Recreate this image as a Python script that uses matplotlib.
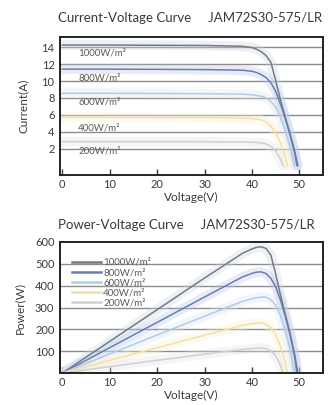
import matplotlib
matplotlib.use("Agg")
import matplotlib.pyplot as plt

plt.rcParams['font.family'] = ['Lato', 'DejaVu Sans']

labels = ["1000W/m²", "800W/m²", "600W/m²", "400W/m²", "200W/m²"]
colors = ["#7a7a7a", "#6a7fb0", "#b3cbe6", "#f4dfa6", "#d0d0d0"]
glows = ["#c8d8e8", "#b8c8e8", "#d8e6f4", "#fbeed0", "#e4e4e4"]

# I-V curves (voltage V, current A)
v_1000 = [0, 10, 20, 30, 38, 40, 41, 42, 43, 44, 45, 46, 47, 48, 49, 49.7]
i_1000 = [14.25, 14.25, 14.22, 14.2, 14.1, 13.95, 13.75, 13.45, 13.0, 12.2, 10.1, 7.8, 5.8, 3.9, 1.8, 0]
v_800 = [0, 10, 20, 30, 38, 40, 41, 42, 43, 44, 45, 46, 47, 48, 49, 49.5]
i_800 = [11.4, 11.4, 11.38, 11.35, 11.28, 11.15, 11.0, 10.75, 10.4, 9.8, 8.8, 7.3, 5.6, 3.7, 1.5, 0]
v_600 = [0, 10, 20, 30, 38, 40, 42, 43, 44, 45, 46, 47, 48, 49]
i_600 = [8.55, 8.55, 8.53, 8.5, 8.45, 8.38, 8.2, 8.0, 7.6, 6.9, 5.7, 4.2, 2.4, 0]
v_400 = [0, 10, 20, 30, 38, 40, 41, 42, 43, 44, 45, 46, 47, 47.5]
i_400 = [5.7, 5.7, 5.69, 5.67, 5.63, 5.58, 5.52, 5.4, 5.15, 4.7, 3.9, 2.7, 1.2, 0]
v_200 = [0, 10, 20, 30, 38, 40, 41, 42, 43, 44, 45, 46, 46.5]
i_200 = [2.85, 2.85, 2.84, 2.83, 2.8, 2.77, 2.74, 2.68, 2.55, 2.3, 1.75, 0.8, 0]

# P-V curves (voltage V, power W)
p_1000 = [0, 145, 290, 435, 548, 568, 576, 578, 570, 540, 455, 359, 273, 187, 88, 0]
p_800 = [0, 116, 232, 348, 440, 456, 462, 463, 455, 433, 396, 336, 263, 178, 74, 0]
p_600 = [0, 87, 174, 260, 328, 340, 348, 347, 336, 311, 262, 197, 115, 0]
p_400 = [0, 58, 116, 173, 218, 226, 229, 229, 222, 207, 176, 124, 56, 0]
p_200 = [0, 29, 58, 86, 108, 112, 114, 114, 111, 101, 79, 37, 0]

volts = [v_1000, v_800, v_600, v_400, v_200]
currents = [i_1000, i_800, i_600, i_400, i_200]
powers = [p_1000, p_800, p_600, p_400, p_200]

x_ticks = [0, 10, 20, 30, 40, 50]
i_ticks = [2, 4, 6, 8, 10, 12, 14]
p_ticks = [100, 200, 300, 400, 500, 600]
label_y = [13.3, 10.4, 7.5, 4.5, 1.75]

fig = plt.figure(figsize=(3.28, 4.05), dpi=100)
ax1 = fig.add_axes([60 / 328, 1 - 175 / 405, 263 / 328, 138 / 405])
ax2 = fig.add_axes([60 / 328, 1 - 373 / 405, 263 / 328, 131 / 405])

def style(ax):
    for s in ax.spines.values():
        s.set_linewidth(1.4)
        s.set_color("#222222")
        s.set_zorder(6)
    ax.tick_params(axis="x", direction="in", length=4, width=1.0, labelsize=8, colors="#3a3a3a", pad=3)
    ax.tick_params(axis="y", length=0, labelsize=8, colors="#3a3a3a", pad=4)
    ax.set_xticks(x_ticks)
    ax.set_xlim(-0.5, 55)

# Top: current-voltage
style(ax1)
ax1.set_ylim(-1.1, 15.2)
ax1.set_yticks(i_ticks)
for y in i_ticks:
    ax1.axhline(y, color="#8c8c8c", lw=1.0, zorder=1)
for v, i, c, g, lab, ly in zip(volts, currents, colors, glows, labels, label_y):
    ax1.plot(v, i, color=g, lw=7, alpha=0.35, zorder=2, solid_capstyle="round")
    ax1.plot(v, i, color=c, lw=1.1, zorder=3)
    ax1.text(3.3, ly, lab, fontsize=7, color="#5a5a5a", va="center", ha="left", zorder=4)
ax1.set_xlabel("Voltage(V)", fontsize=8.5, color="#3a3a3a", labelpad=1)
ax1.set_ylabel("Current(A)", fontsize=8.5, color="#3a3a3a", labelpad=9)
fig.text(58 / 328, 1 - 18 / 405, "Current-Voltage Curve     JAM72S30-575/LR",
         fontsize=9.5, color="#3a3a3a", va="center", ha="left")

# Bottom: power-voltage
style(ax2)
ax2.set_ylim(0, 600)
ax2.set_yticks(p_ticks)
for y in p_ticks[:-1]:
    ax2.axhline(y, color="#8c8c8c", lw=1.0, zorder=1)
for v, p, c, g, lab in zip(volts, powers, colors, glows, labels):
    ax2.plot(v, p, color=g, lw=7, alpha=0.35, zorder=2, solid_capstyle="round")
    ax2.plot(v, p, color=c, lw=1.1, zorder=3, label=lab)
leg = ax2.legend(loc="upper left", bbox_to_anchor=(0.02, 0.93), frameon=False, fontsize=7,
                 handlelength=3.0, handletextpad=0.2, labelspacing=0.12, borderpad=0.2)
for t in leg.get_texts():
    t.set_color("#5a5a5a")
for h in leg.get_lines():
    h.set_linewidth(1.8)
ax2.set_xlabel("Voltage(V)", fontsize=8.5, color="#3a3a3a", labelpad=1)
ax2.set_ylabel("Power(W)", fontsize=8.5, color="#3a3a3a", labelpad=7)
fig.text(58 / 328, 1 - 225 / 405, "Power-Voltage Curve     JAM72S30-575/LR",
         fontsize=9.5, color="#3a3a3a", va="center", ha="left")

fig.savefig("out.png", dpi=100)
